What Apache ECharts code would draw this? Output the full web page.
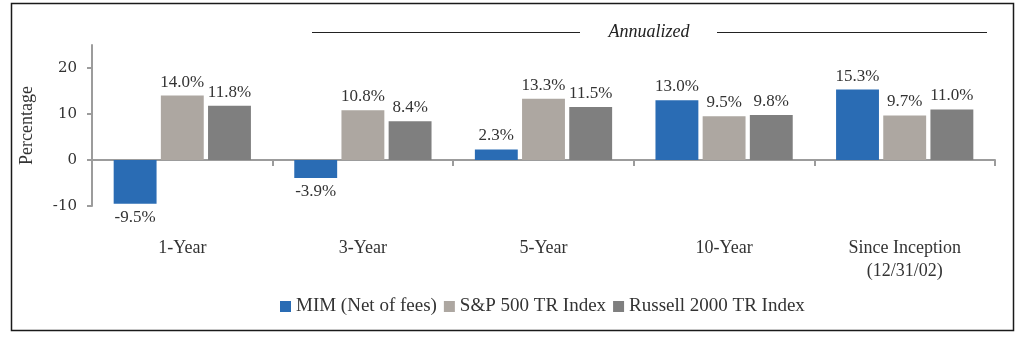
<!DOCTYPE html>
<html>
<head>
<meta charset="utf-8">
<script src="https://cdn.jsdelivr.net/npm/echarts@6/dist/echarts.min.js"></script>
<style>
html,body{margin:0;padding:0;background:#fff;}
#c{width:1024px;height:338px;}
</style>
</head>
<body>
<div id="c"></div>
<script>
var categories = ['1-Year', '3-Year', '5-Year', '10-Year', 'Since Inception\n(12/31/02)'];
var seriesNames = ['MIM (Net of fees)', 'S&P 500 TR Index', 'Russell 2000 TR Index'];
var mimValues = [-9.5, -3.9, 2.3, 13.0, 15.3];
var spValues = [14.0, 10.8, 13.3, 9.5, 9.7];
var russellValues = [11.8, 8.4, 11.5, 9.8, 11.0];
var yTicks = [-10, 0, 10, 20];

var FONT = '"Liberation Serif", "DejaVu Serif", serif';
var TXT = '#333333';
var AX = '#9c9c9c';
var colors = ['#2a6cb4', '#ada7a1', '#7f7f7f'];

function mkSeries(name, vals, color) {
  return {
    name: name,
    type: 'bar',
    xAxisIndex: 0,
    barGap: '10%',
    barCategoryGap: '24%',
    itemStyle: { color: color },
    data: vals.map(function (v) {
      return {
        value: v,
        label: { position: v < 0 ? 'bottom' : 'top' }
      };
    }),
    label: {
      show: true,
      distance: 5,
      fontFamily: FONT,
      fontSize: 17,
      color: TXT,
      formatter: function (p) { return p.value.toFixed(1) + '%'; }
    }
  };
}

var chart = echarts.init(document.getElementById('c'), null, { renderer: 'canvas' });
chart.setOption({
  animation: false,
  backgroundColor: '#ffffff',
  grid: { left: 92, right: 29, top: 45, bottom: 132, containLabel: false },
  legend: {
    left: 275,
    top: 292,
    itemWidth: 11,
    itemHeight: 11,
    itemGap: 7,
    icon: 'rect',
    textStyle: { fontFamily: FONT, fontSize: 19, color: TXT },
    data: seriesNames
  },
  xAxis: [
    {
      type: 'category',
      data: categories,
      axisLine: { onZero: true, lineStyle: { color: AX, width: 2 } },
      axisTick: { show: true, length: 6, lineStyle: { color: AX, width: 2 } },
      axisLabel: { show: false },
      splitLine: { show: false }
    },
    {
      type: 'category',
      data: categories,
      position: 'bottom',
      axisLine: { show: false, onZero: false },
      axisTick: { show: false },
      axisLabel: {
        show: true,
        margin: 31,
        lineHeight: 23,
        fontFamily: FONT,
        fontSize: 18,
        color: TXT
      },
      splitLine: { show: false }
    }
  ],
  yAxis: {
    type: 'value',
    min: -10,
    max: 25,
    interval: 10,
    name: 'Percentage',
    nameLocation: 'middle',
    nameGap: 56,
    nameTextStyle: { fontFamily: FONT, fontSize: 18, color: TXT },
    axisLine: { show: true, lineStyle: { color: AX, width: 2 } },
    axisTick: { show: true, length: 5, customValues: yTicks, lineStyle: { color: AX, width: 2 } },
    axisLabel: {
      customValues: yTicks,
      margin: 15,
      fontFamily: '"DejaVu Serif", serif',
      fontSize: 15,
      color: TXT
    },
    splitLine: { show: false }
  },
  graphic: [
    { type: 'rect', shape: { x: 11.5, y: 3.5, width: 1002, height: 327 }, style: { fill: null, stroke: '#1a1a1a', lineWidth: 1.5 }, silent: true },
    { type: 'line', shape: { x1: 312, y1: 32.5, x2: 580, y2: 32.5 }, style: { stroke: '#222', lineWidth: 1 } },
    { type: 'line', shape: { x1: 717, y1: 32.5, x2: 987, y2: 32.5 }, style: { stroke: '#222', lineWidth: 1 } },
    { type: 'text', x: 649, y: 32, style: { text: 'Annualized', font: 'italic 18px ' + FONT, fill: '#222', align: 'center', verticalAlign: 'middle' } }
  ],
  series: [
    mkSeries(seriesNames[0], mimValues, colors[0]),
    mkSeries(seriesNames[1], spValues, colors[1]),
    mkSeries(seriesNames[2], russellValues, colors[2])
  ]
});
</script>
</body>
</html>
